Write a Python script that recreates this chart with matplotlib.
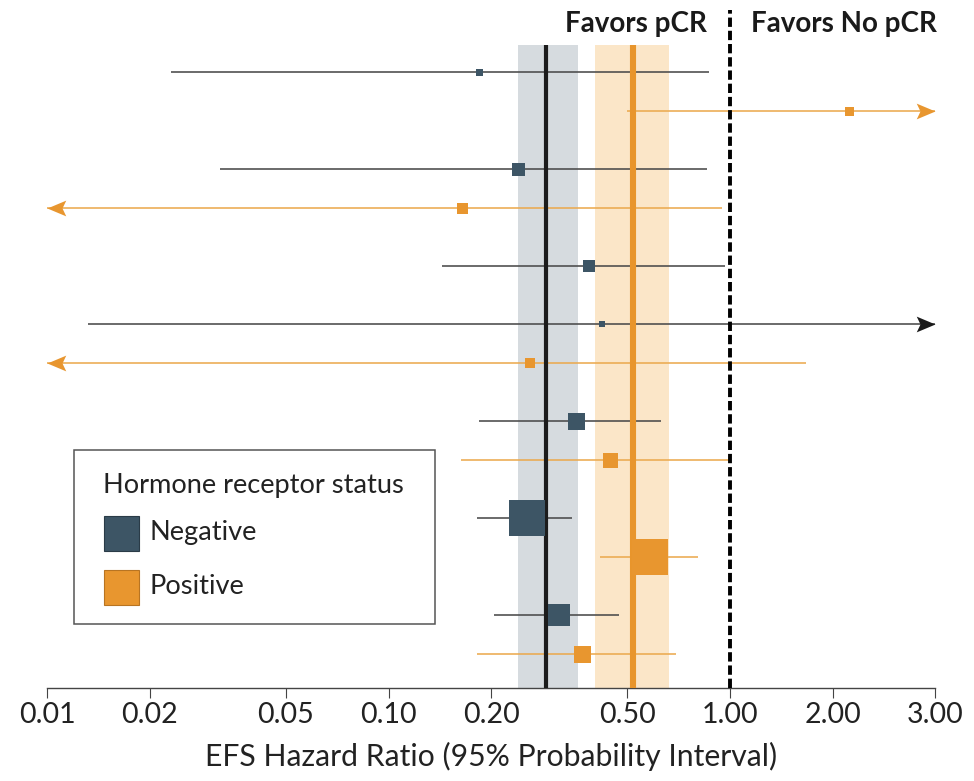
import numpy as np
import matplotlib
matplotlib.use('Agg')
import matplotlib.pyplot as plt
import matplotlib.transforms as mtransforms
from matplotlib.path import Path
from matplotlib.patches import Rectangle

plt.rcParams['font.family'] = ['Lato', 'DejaVu Sans']

# per-study EFS hazard ratios; nan bound = interval runs off the axis
status = ['Negative', 'Positive', 'Negative', 'Positive', 'Negative', 'Negative', 'Positive',
          'Negative', 'Positive', 'Negative', 'Positive', 'Negative', 'Positive']
group = [1, 1, 2, 2, 3, 4, 4, 5, 5, 6, 6, 7, 7]
hr = [0.184, 2.23, 0.239, 0.164, 0.387, 0.421, 0.260, 0.355, 0.446, 0.255, 0.583, 0.316, 0.369]
lo = [0.023, 0.499, 0.032, np.nan, 0.143, 0.0132, np.nan, 0.184, 0.163, 0.181, 0.416, 0.204, 0.181]
hi = [0.868, np.nan, 0.855, 0.946, 0.969, np.nan, 1.67, 0.629, 0.991, 0.345, 0.807, 0.473, 0.693]
weight = [4.9, 8.1, 16.9, 12.1, 14.4, 3.6, 10.0, 28.9, 22.5, 129.6, 129.6, 48.4, 28.9]

# pooled estimates by hormone receptor status
pooled_status = ['Negative', 'Positive']
pooled_hr = [0.290, 0.520]
pooled_lo = [0.239, 0.403]
pooled_hi = [0.360, 0.663]

tick_values = [0.01, 0.02, 0.05, 0.10, 0.20, 0.50, 1.00, 2.00, 4.00]
tick_labels = ['0.01', '0.02', '0.05', '0.10', '0.20', '0.50', '1.00', '2.00', '3.00']
xmin, xmax = 0.01, 4.0

sq_color = {'Negative': '#3d5565', 'Positive': '#e8962f'}
ci_color = {'Negative': '#4a4a4a', 'Positive': '#ebaa50'}
arrow_color = {'Negative': '#1a1a1a', 'Positive': '#e8962f'}
band_color = {'Negative': '#d6dbdf', 'Positive': '#fbe6c8'}
pool_color = {'Negative': '#1c1c1c', 'Positive': '#e8952c'}
pool_lw = {'Negative': 3.0, 'Positive': 4.4}

# row positions: 2 units inside a group, 3 between groups
y = []
prev = None
pos = 0
for g in group:
    if prev is not None:
        pos += 2 if g == prev else 3
    y.append(pos)
    prev = g

# notched arrowhead, tip at the origin
right_head = Path([(0, 0), (-1, 0.42), (-0.8, 0), (-1, -0.42), (0, 0)],
                  [Path.MOVETO, Path.LINETO, Path.LINETO, Path.LINETO, Path.CLOSEPOLY])
left_head = Path([(0, 0), (1, 0.42), (0.8, 0), (1, -0.42), (0, 0)],
                 [Path.MOVETO, Path.LINETO, Path.LINETO, Path.LINETO, Path.CLOSEPOLY])

W, H = 974, 781
fig = plt.figure(figsize=(W / 100, H / 100), dpi=100)
ax = fig.add_axes([47.2 / W, (H - 688) / H, (935.5 - 47.2) / W, (688 - 45) / H])
ax.set_xscale('log')
ax.set_xlim(xmin, xmax)
ax.set_ylim(y[-1] + 1.75, y[0] - 1.39)

for s, m, l, h in zip(pooled_status, pooled_hr, pooled_lo, pooled_hi):
    ax.axvspan(l, h, color=band_color[s], lw=0, zorder=0)
    ax.axvline(m, color=pool_color[s], lw=pool_lw[s], zorder=3)

for yi, s, m, l, h, w in zip(y, status, hr, lo, hi, weight):
    x0 = xmin if np.isnan(l) else l
    x1 = xmax if np.isnan(h) else h
    ax.plot([x0, x1], [yi, yi], color=ci_color[s], lw=1.15, solid_capstyle='butt', zorder=2)
    if np.isnan(l):
        ax.plot(xmin, yi, marker=left_head, ms=27, color=arrow_color[s], mew=0,
                clip_on=False, zorder=4)
    if np.isnan(h):
        ax.plot(xmax, yi, marker=right_head, ms=27, color=arrow_color[s], mew=0,
                clip_on=False, zorder=4)
    side = np.sqrt(w * 10) * 0.72
    ax.plot(m, yi, marker='s', ms=side, color=sq_color[s], mew=0, zorder=5)

# line of no effect, running up between the two headers
trans = mtransforms.blended_transform_factory(ax.transData, ax.transAxes)
ax.plot([1.0, 1.0], [0, 1 + 35 / 643], transform=trans, color='black', lw=2.8,
        dashes=(2.4, 1.0), clip_on=False, zorder=4)

for sp in ['top', 'right', 'left']:
    ax.spines[sp].set_visible(False)
ax.spines['bottom'].set_color('#444444')
ax.spines['bottom'].set_linewidth(1.0)
ax.set_yticks([])
ax.set_xticks(tick_values)
ax.set_xticklabels(tick_labels)
ax.xaxis.set_minor_locator(matplotlib.ticker.NullLocator())
ax.tick_params(axis='x', length=7, width=0.8, color='#444444', pad=3,
               labelsize=20.5, labelcolor='#222222')

# figure pixel coordinates, measured from the top-left corner
px = mtransforms.Affine2D().scale(1 / W, -1 / H).translate(0, 1) + fig.transFigure

fig.text(491, 756, 'EFS Hazard Ratio (95% Probability Interval)', transform=px,
         ha='center', va='center', fontsize=21.7, color='#222222')
fig.text(707, 32, 'Favors pCR', transform=px, ha='right', va='baseline',
         fontsize=20, fontweight='bold', color='#1a1a1a')
fig.text(751, 32, 'Favors No pCR', transform=px, ha='left', va='baseline',
         fontsize=20, fontweight='bold', color='#1a1a1a')

# legend box
fig.add_artist(Rectangle((73.5, 450), 361.5, 174, transform=px, fill=True,
                         facecolor='white', edgecolor='#555555', lw=1.1, zorder=6))
fig.text(103, 486, 'Hormone receptor status', transform=px, ha='left', va='center',
         fontsize=19.6, color='#222222', zorder=7)
for s, ty, edge in zip(['Negative', 'Positive'], [516, 570], ['#2a3b47', '#b87422']):
    fig.add_artist(Rectangle((103.5, ty), 35.5, 35, transform=px, facecolor=sq_color[s],
                             edgecolor=edge, lw=0.8, zorder=7))
    fig.text(150, ty + 16.5, s, transform=px, ha='left', va='center',
             fontsize=19.6, color='#222222', zorder=7)

fig.savefig('out.png', dpi=100)
